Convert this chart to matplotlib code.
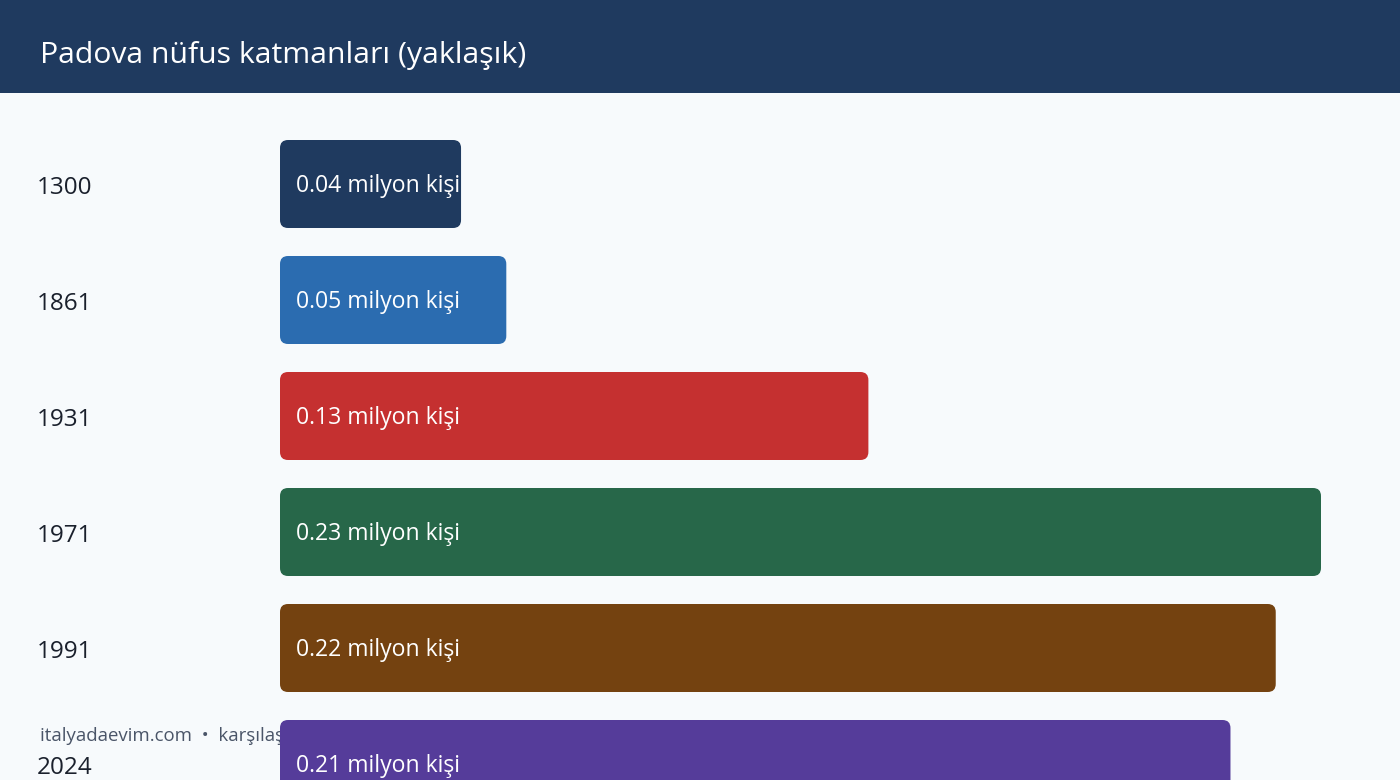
import matplotlib
matplotlib.use("Agg")
import matplotlib.pyplot as plt
from matplotlib.patches import FancyBboxPatch, Rectangle
from matplotlib.transforms import blended_transform_factory

years = ["1300", "1861", "1931", "1971", "1991", "2024"]
values = [0.04, 0.05, 0.13, 0.23, 0.22, 0.21]
value_labels = ["0.04 milyon kişi", "0.05 milyon kişi", "0.13 milyon kişi",
                "0.23 milyon kişi", "0.22 milyon kişi", "0.21 milyon kişi"]
colors = ["#1f3a5f", "#2b6cb0", "#c53030", "#276749", "#744210", "#553c9a"]
title = "Padova nüfus katmanları (yaklaşık)"
footer = "italyadaevim.com  •  karşılaştırma verileri"

FONT = ["Open Sans", "DejaVu Sans"]
plt.rcParams['font.family'] = FONT

W, H, DPI = 1400, 780, 100
fig = plt.figure(figsize=(W / DPI, H / DPI), dpi=DPI)
fig.patch.set_facecolor("#f7fafc")

# header band
fig.add_artist(Rectangle((0, 1 - 93 / H), 1, 93 / H, transform=fig.transFigure,
                         facecolor="#1f3a5f", edgecolor="none", zorder=0))
fig.text(40 / W, 1 - 56 / H, title, color="white", fontsize=21.7,
         va="center", ha="left")

# footer (drawn beneath bars)
fig.text(40 / W, 1 - 736 / H, footer, color="#4a5568", fontsize=13.4,
         va="center", ha="left", zorder=-1)

# axes for bars
left_px, top_px = 280, 93
ax = fig.add_axes([left_px / W, 0, (W - left_px) / W, (H - top_px) / H])
ax.set_zorder(1)
ax.patch.set_visible(False)
px_per_unit_x = 1041 / 0.23
pitch = 116
ax.set_xlim(0, (W - left_px) / px_per_unit_x)
ax.set_ylim((780 - 184) / pitch, -(184 - 93) / pitch)
ax.axis("off")

bar_h = 88 / pitch
radius_px = 8
r_x = radius_px / px_per_unit_x
aspect = px_per_unit_x / pitch
for i, (v, c) in enumerate(zip(values, colors)):
    p = FancyBboxPatch((0, i - bar_h / 2), v, bar_h,
                       boxstyle=f"round,pad=0,rounding_size={r_x}",
                       mutation_aspect=aspect,
                       facecolor=c, edgecolor="none", clip_on=False)
    ax.add_patch(p)
    ax.annotate(value_labels[i], xy=(0, i), xytext=(16 * 72 / DPI, -2 * 72 / DPI),
                textcoords="offset points", color="white", fontsize=16.6,
                va="center", ha="left", annotation_clip=False)

trans = blended_transform_factory(fig.transFigure, ax.transData)
for i, y in enumerate(years):
    fig.text(37 / W, i + 0.035, y, transform=trans, color="#1a202c",
             fontsize=17.5, va="center", ha="left")

fig.savefig("out.png", dpi=DPI, facecolor=fig.get_facecolor())
